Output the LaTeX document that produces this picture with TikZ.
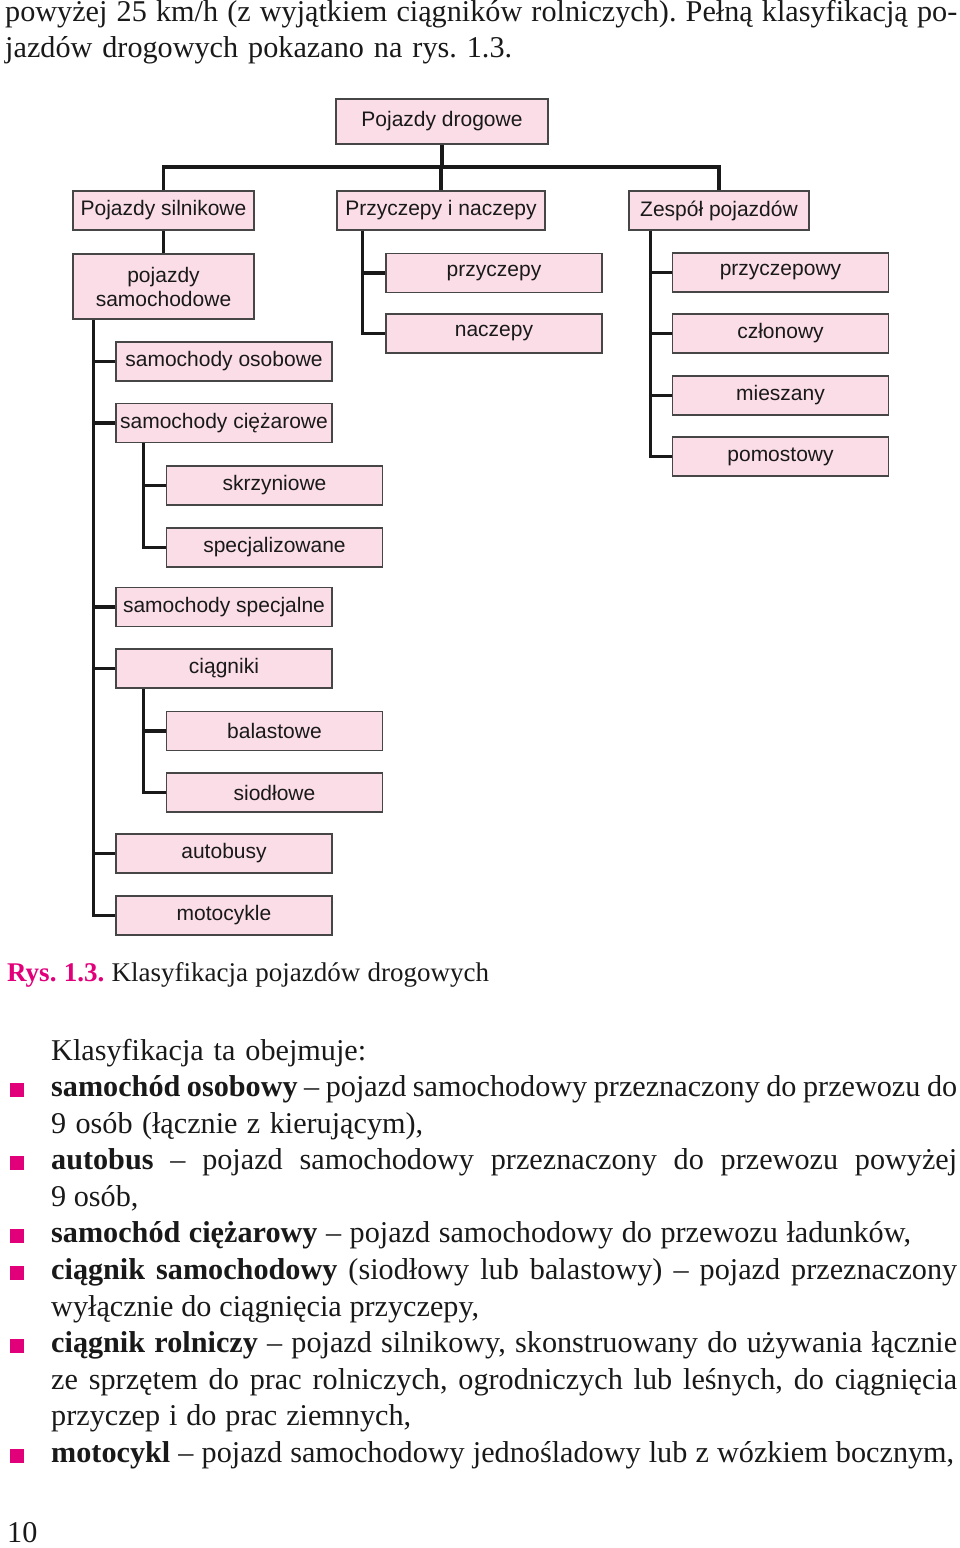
\documentclass[tikz,border=0pt]{standalone}
\usepackage{fontspec}
\setmainfont{Liberation Serif}
\newfontfamily\sansf{Liberation Sans}
\definecolor{boxpink}{RGB}{251,221,231}
\definecolor{mag}{RGB}{226,0,122}
\definecolor{boxline}{RGB}{70,70,70}
\definecolor{connc}{RGB}{25,25,25}
\frenchspacing
\begin{document}
\frenchspacing
\begin{tikzpicture}[x=1pt,y=-1pt,
  box/.style={draw=boxline, line width=1.3pt, fill=boxpink, inner sep=0pt, align=center,
    font=\sansf\fontsize{21}{24}\selectfont, text=black!90, yshift=-1pt},
  bA/.style={box, minimum width=181pt, minimum height=39pt},
  bB/.style={box, minimum width=216pt, minimum height=39pt},
  conn/.style={line width=3.5pt, draw=connc, line join=miter},
  txt/.style={anchor=base west, inner sep=0pt, font=\fontsize{30.2}{36}\selectfont\frenchspacing, text=black!90},
  captxt/.style={anchor=base west, inner sep=0pt, font=\fontsize{27}{34}\selectfont\frenchspacing, text=black!90},
  bul/.style={fill=mag, minimum size=14pt, inner sep=0pt}]
\useasboundingbox (0,0) rectangle (960,1548);

% ---------------- tree boxes ----------------
\node[box, minimum width=212pt, minimum height=45pt] (root) at (442,120.5) {Pojazdy drogowe};
\node[bA] (sil) at (163.5,209.5) {Pojazdy silnikowe};
\node[box, minimum width=208pt, minimum height=39pt] (prz) at (441,209.5) {Przyczepy i naczepy};
\node[box, minimum width=180pt, minimum height=39pt] (zes) at (719,209.5) {Zespół pojazdów};
\node[box, minimum width=181pt, minimum height=65pt] (psam) at (163.5,285.5) {pojazdy\\samochodowe};
\node[bB] (osob) at (224,360.5) {samochody osobowe};
\node[bB] (cie) at (224,422) {samochody ciężarowe};
\node[bB] (skrz) at (274.5,484.5) {skrzyniowe};
\node[bB] (spec) at (274.5,546.5) {specjalizowane};
\node[bB] (sspec) at (224,606) {samochody specjalne};
\node[bB] (ciag) at (224,667.5) {ciągniki};
\node[bB] (bal) at (274.5,730) {balastowe};
\node[bB] (sio) at (274.5,791.5) {siodłowe};
\node[bB] (aut) at (224,852.5) {autobusy};
\node[bB] (moto) at (224,914.5) {motocykle};
\node[bB] (przy) at (494,272) {przyczepy};
\node[bB] (nacz) at (494,332.5) {naczepy};
\node[bB] (pw) at (780.5,271.5) {przyczepowy};
\node[bB] (czl) at (780.5,332.5) {członowy};
\node[bB] (mie) at (780.5,394.5) {mieszany};
\node[bB] (pom) at (780.5,455.5) {pomostowy};

% ---------------- connectors ----------------
\coordinate (bus) at (442,167);
\draw[conn] (root.south) -- (bus);
\draw[conn] (sil.north) |- (zes.north |- bus) -- (zes.north);
\draw[conn] (prz.north |- bus) -- (prz.north);
\draw[conn] (sil.south) -- (psam.north);

\coordinate (t1) at ([xshift=21pt]psam.south west);
\draw[conn] (t1) |- (moto.west);
\foreach \n in {osob,cie,sspec,ciag,aut} \draw[conn] (\n.west) -- (\n.west -| t1);

\coordinate (t2) at ([xshift=28pt]cie.south west);
\draw[conn] (t2) |- (spec.west);
\draw[conn] (skrz.west) -- (skrz.west -| t2);

\coordinate (t3) at ([xshift=28pt]ciag.south west);
\draw[conn] (t3) |- (sio.west);
\draw[conn] (bal.west) -- (bal.west -| t3);

\coordinate (t4) at ([xshift=26pt]prz.south west);
\draw[conn] (t4) |- (nacz.west);
\draw[conn] (przy.west) -- (przy.west -| t4);

\coordinate (t5) at ([xshift=22pt]zes.south west);
\draw[conn] (t5) |- (pom.west);
\foreach \n in {pw,czl,mie} \draw[conn] (\n.west) -- (\n.west -| t5);

% ---------------- running text ----------------
\node[txt] (top1) at (5,21) {\makebox[952pt][s]{powyżej 25 km/h (z wyjątkiem ciągników rolniczych). Pełną klasyfikacją po-}};
\node[txt] (top2) at (5,57) {\makebox[507pt][s]{jazdów drogowych pokazano na rys. 1.3.}};

\node[captxt] (caption) at (7,981) {\makebox[482pt][s]{\textcolor{mag}{\textbf{Rys. 1.3.}} Klasyfikacja pojazdów drogowych}};

\node[txt] (intro) at (51,1060) {\makebox[315pt][s]{Klasyfikacja ta obejmuje:}};
\node[txt] (l1) at (51,1096.5) {\makebox[906pt][s]{\textbf{samochód osobowy} – pojazd samochodowy przeznaczony do przewozu do}};
\node[txt] (l2) at (51,1133.1) {\makebox[372pt][s]{9 osób (łącznie z kierującym),}};
\node[txt] (l3) at (51,1169.7) {\makebox[906pt][s]{\textbf{autobus} – pojazd samochodowy przeznaczony do przewozu powyżej}};
\node[txt] (l4) at (51,1206.3) {9 osób,};
\node[txt] (l5) at (51,1242.9) {\makebox[860pt][s]{\textbf{samochód ciężarowy} – pojazd samochodowy do przewozu ładunków,}};
\node[txt] (l6) at (51,1279.5) {\makebox[906pt][s]{\textbf{ciągnik samochodowy} (siodłowy lub balastowy) – pojazd przeznaczony}};
\node[txt] (l7) at (51,1316.1) {\makebox[428pt][s]{wyłącznie do ciągnięcia przyczepy,}};
\node[txt] (l8) at (51,1352.7) {\makebox[906pt][s]{\textbf{ciągnik rolniczy} – pojazd silnikowy, skonstruowany do używania łącznie}};
\node[txt] (l9) at (51,1389.3) {\makebox[906pt][s]{ze sprzętem do prac rolniczych, ogrodniczych lub leśnych, do ciągnięcia}};
\node[txt] (l10) at (51,1425.9) {\makebox[360pt][s]{przyczep i do prac ziemnych,}};
\node[txt] (l11) at (51,1462.5) {\makebox[903pt][s]{\textbf{motocykl} – pojazd samochodowy jednośladowy lub z wózkiem bocznym,}};

\foreach \y/\nm in {1096.5/b1,1169.7/b2,1242.9/b3,1279.5/b4,1352.7/b5,1462.5/b6}
  \node[bul] (\nm) at (16.5,\y-7) {};

\node[txt] (page) at (7,1542) {10};
\end{tikzpicture}
\end{document}
